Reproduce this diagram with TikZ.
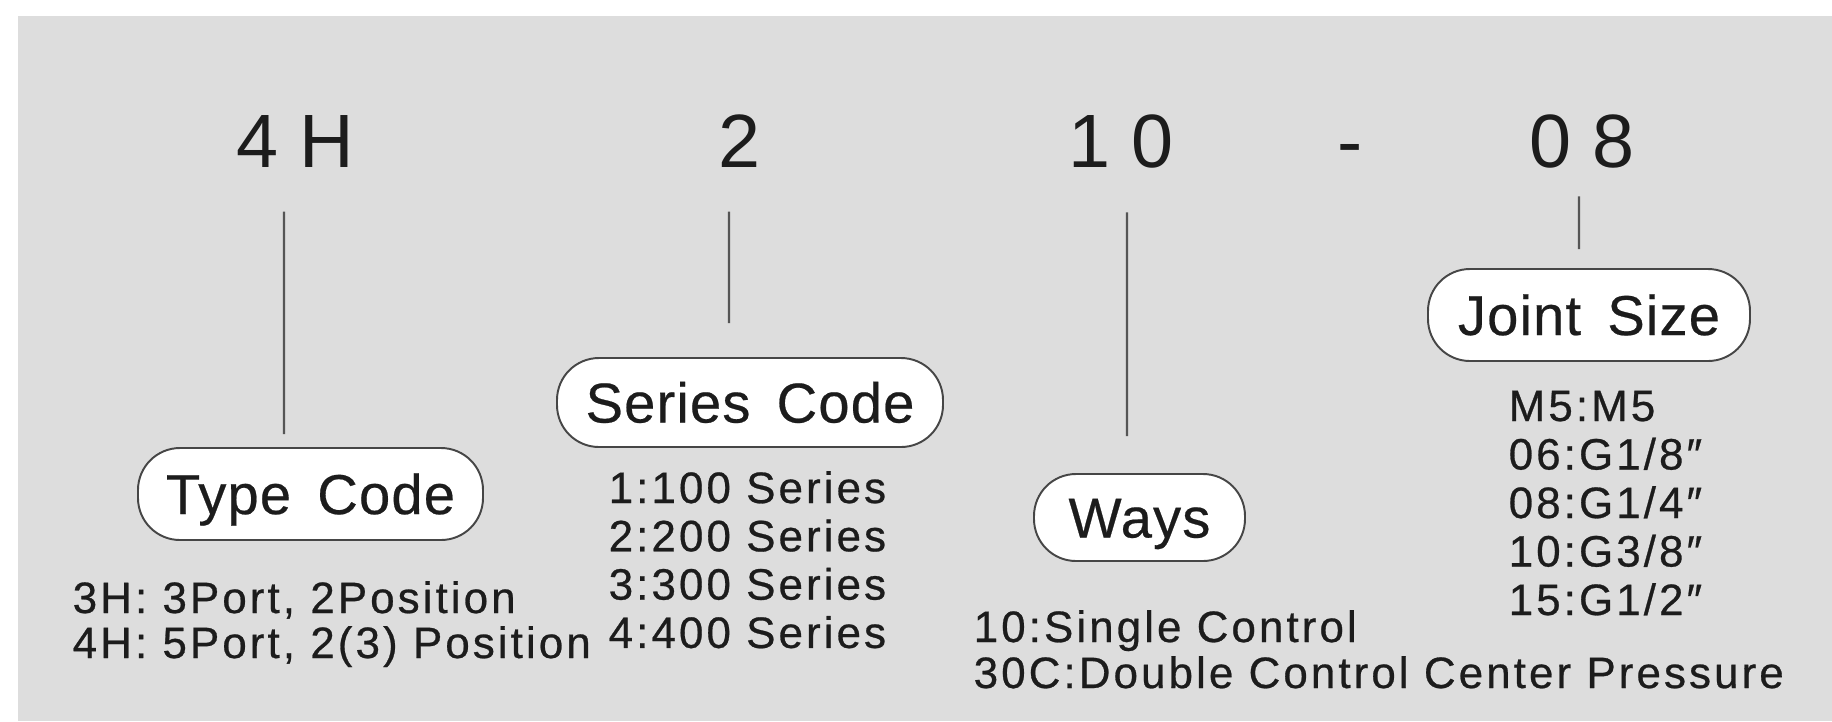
\documentclass[tikz,border=0pt]{standalone}
\usepackage{fontspec}
\setmainfont{Liberation Sans}
\usepackage{xcolor}
\usepackage{tikz}
\usetikzlibrary{positioning,calc}

\definecolor{panel}{RGB}{221,221,221}
\definecolor{ink}{RGB}{28,28,28}
\definecolor{stemgray}{RGB}{85,85,85}
\definecolor{rimgray}{RGB}{70,70,70}

\begin{document}
\begin{tikzpicture}[
    codepart/.style={inner sep=0pt, anchor=base, text=ink,
        font=\fontsize{21.5}{24}\selectfont},
    tag/.style={draw=rimgray, line width=0.55pt, fill=white, rounded corners=0.42cm,
        inner sep=0pt, text height=11.4pt, text depth=0pt, text=ink,
        font=\fontsize{16}{18}\selectfont\addfontfeature{LetterSpace=2,FakeBold=0.4}},
    desc/.style={inner sep=0pt, anchor=base west, text=ink,
        font=\fontsize{12.5}{14}\selectfont\addfontfeature{LetterSpace=7,FakeBold=0.6}},
    stem/.style={draw=stemgray, line width=0.6pt}
]
    % model code 4H210-08 and what each part means

    \useasboundingbox (0,0) rectangle (18.32,-7.21);
    \fill[white] (0,0) rectangle (18.32,-7.21);
    \fill[panel] (0.18,-0.16) rectangle (18.32,-7.21);

    \node[codepart] (n4H) at (2.95,-1.67) {4 H};
    \node[codepart] (n2)  at (7.40,-1.67) {2};
    \node[codepart] (n10) at (11.21,-1.67) {1 0};
    \node[codepart] (ndash) at (13.50,-1.67) {-};
    \node[codepart] (n08) at (15.82,-1.67) {0 8};

    \node[tag, minimum width=3.45cm, minimum height=0.92cm] (typecode)   at (3.105,-4.94) {Type\, Code};
    \node[tag, minimum width=3.86cm, minimum height=0.89cm] (seriescode) at (7.50,-4.025) {Series\, Code};
    \node[tag, minimum width=2.11cm, minimum height=0.87cm] (ways)       at (11.395,-5.175) {Ways};
    \node[tag, minimum width=3.22cm, minimum height=0.92cm] (jointsize)  at (15.89,-3.15) {Joint\, Size};

    \draw[stem] ([xshift=-0.11cm,yshift=-0.44cm]n4H.south) -- ([xshift=-0.265cm,yshift=0.13cm]typecode.north);
    \draw[stem] ([xshift=-0.11cm,yshift=-0.44cm]n2.south) -- ([xshift=-0.21cm,yshift=0.34cm]seriescode.north);
    \draw[stem] ([xshift=0.06cm,yshift=-0.44cm]n10.south) -- ([xshift=-0.125cm,yshift=0.37cm]ways.north);
    \draw[stem] ([xshift=-0.03cm,yshift=-0.28cm]n08.south) -- ([xshift=-0.10cm,yshift=0.19cm]jointsize.north);

    \foreach \txt [count=\i from 0] in {{3H: 3Port, 2Position}, {4H: 5Port, 2(3) Position}} {
        \node[desc] (type\i) at (0.72,-6.13-0.45*\i) {\txt};
    }
    \foreach \txt [count=\i from 0] in {1:100 Series, 2:200 Series, 3:300 Series, 4:400 Series} {
        \node[desc] (series\i) at (6.08,-5.03-0.483*\i) {\txt};
    }
    \foreach \txt [count=\i from 0] in {10:Single Control, 30C:Double Control Center Pressure} {
        \node[desc] (ways\i) at (9.73,-6.42-0.46*\i) {\txt};
    }
    \foreach \txt [count=\i from 0] in {M5:M5, 06:G1/8″, 08:G1/4″, 10:G3/8″, 15:G1/2″} {
        \node[desc] (joint\i) at (15.08,-4.21-0.485*\i) {\txt};
    }
\end{tikzpicture}
\end{document}
